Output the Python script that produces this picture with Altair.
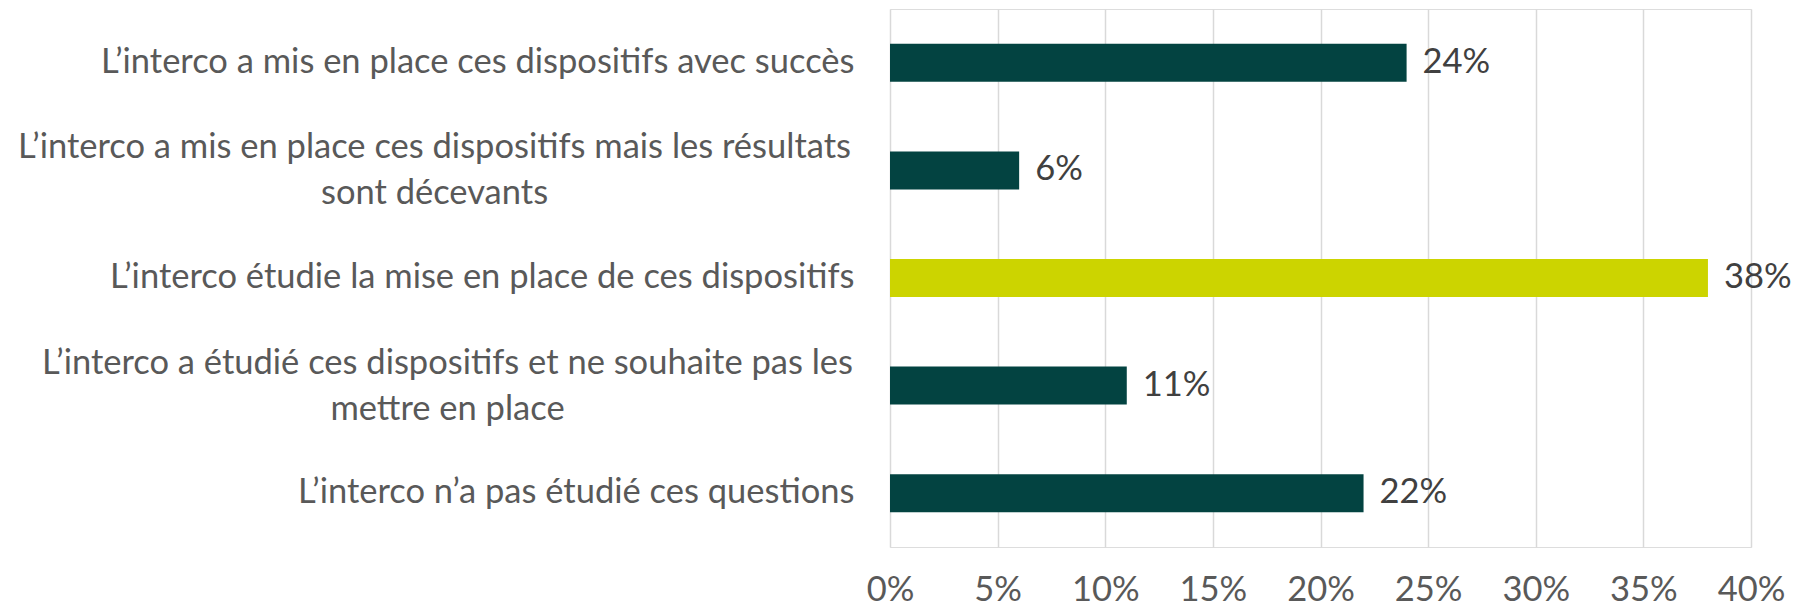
import altair as alt
import pandas as pd

categories = [
    "L’interco a mis en place ces dispositifs avec succès",
    "L’interco a mis en place ces dispositifs mais les résultats|sont décevants",
    "L’interco étudie la mise en place de ces dispositifs",
    "L’interco a étudié ces dispositifs et ne souhaite pas les|mettre en place",
    "L’interco n’a pas étudié ces questions",
]
values = [0.24, 0.06, 0.38, 0.11, 0.22]
highlight = [False, False, True, False, False]
ticks = [0, 0.05, 0.1, 0.15, 0.2, 0.25, 0.3, 0.35, 0.4]

df = pd.DataFrame({"cat": categories, "val": values, "hl": highlight})

FONT = "Lato"
FS = 34.5

t2 = "indexof(datum.value, 'résultats|') >= 0"
t4 = "indexof(datum.value, 'les|') >= 0"

y = alt.Y(
    "cat:N",
    sort=categories,
    scale=alt.Scale(paddingInner=0.647, paddingOuter=0.3235),
    axis=alt.Axis(
        title=None,
        labelExpr="split(datum.label, '|')",
        labelFont=FONT,
        labelFontSize=FS,
        labelColor="#595959",
        labelLineHeight=46,
        labelPadding={"condition": [{"test": t2, "value": 456}, {"test": t4, "value": 443}], "value": 36},
        labelAlign={"condition": {"test": "indexof(datum.value, '|') >= 0", "value": "center"}, "value": "right"},
        labelOffset={"condition": {"test": "indexof(datum.value, '|') >= 0", "value": -22}, "value": 0},
        labelLimit=1000,
        ticks=False,
        domain=False,
    ),
)
x = alt.X(
    "val:Q",
    scale=alt.Scale(domain=[0, 0.4], nice=False),
    axis=alt.Axis(
        title=None,
        format=".0%",
        values=ticks,
        labelFont=FONT,
        labelFontSize=FS,
        labelColor="#595959",
        labelBaseline="alphabetic",
        labelPadding=53,
        labelFlush=False,
        grid=True,
        gridColor="#D9D9D9",
        gridWidth=1.5,
        ticks=False,
        domain=False,
    ),
)

bars = alt.Chart(df).mark_bar().encode(
    x=x,
    y=y,
    color=alt.Color(
        "hl:N",
        scale=alt.Scale(domain=[False, True], range=["#034341", "#CCD400"]),
        legend=None,
    ),
)
labels = alt.Chart(df).mark_text(
    align="left", baseline="middle", dx=16, font=FONT, fontSize=FS, color="#404040"
).encode(x="val:Q", y=alt.Y("cat:N", sort=categories), text=alt.Text("val:Q", format=".0%"))

chart = (
    alt.layer(bars, labels)
    .properties(
        width=861,
        height=538,
        autosize=alt.AutoSizeParams(type="none"),
        padding={"left": 882, "top": 1, "right": 50, "bottom": 62},
    )
    .configure_view(stroke=None)
    .configure(background="white")
)

chart.save("out.html", embed_options={"renderer": "svg", "actions": False})
